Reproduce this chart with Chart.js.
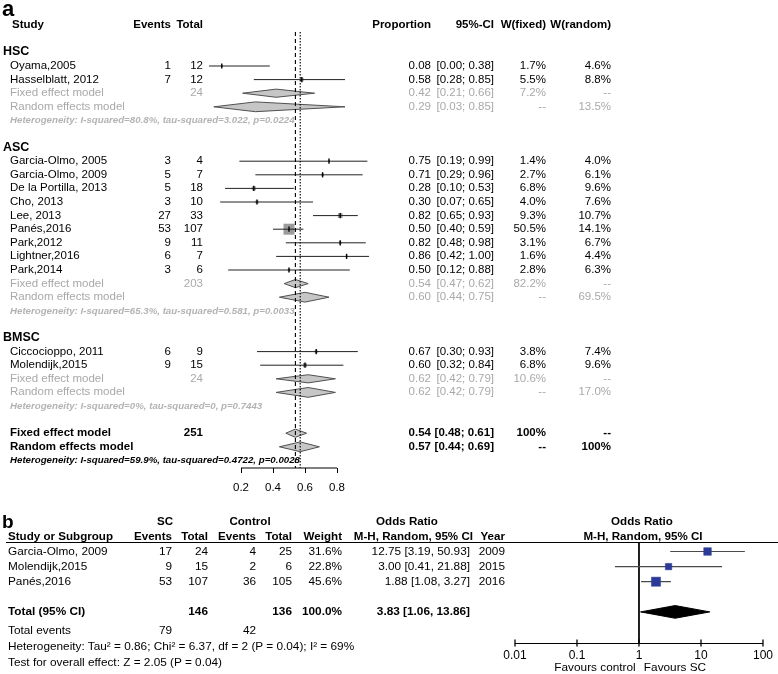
<!DOCTYPE html>
<html><head><meta charset="utf-8">
<script src="https://cdn.jsdelivr.net/npm/chart.js@4.4.1/dist/chart.umd.min.js"></script>
<style>
html,body{margin:0;padding:0;background:#fff;}
#page{position:relative;width:778px;height:674px;overflow:hidden;font-family:"Liberation Sans",Arial,Helvetica,sans-serif;color:#000;}
canvas{position:absolute;left:0;}
.t{position:absolute;white-space:nowrap;line-height:1;}
</style></head><body><div id="page">
<canvas id="ca" width="778" height="500" style="top:0px"></canvas>
<canvas id="cb" width="778" height="174" style="top:500px"></canvas>
</div>
<script>
// ---------------- Panel a data ----------------
const subgroups = ['HSC', 'ASC', 'BMSC'];
const studyNames = ['Oyama,2005', 'Hasselblatt, 2012', 'Garcia-Olmo, 2005', 'Garcia-Olmo, 2009', 'De la Portilla, 2013', 'Cho, 2013', 'Lee, 2013', 'Panés,2016', 'Park,2012', 'Lightner,2016', 'Park,2014', 'Ciccocioppo, 2011', 'Molendijk,2015'];
const studyGroup = ['HSC', 'HSC', 'ASC', 'ASC', 'ASC', 'ASC', 'ASC', 'ASC', 'ASC', 'ASC', 'ASC', 'BMSC', 'BMSC'];
const events = [1, 7, 3, 5, 5, 3, 27, 53, 9, 6, 3, 6, 9];
const totals = [12, 12, 4, 7, 18, 10, 33, 107, 11, 7, 6, 9, 15];
const proportion = [0.08, 0.58, 0.75, 0.71, 0.28, 0.30, 0.82, 0.50, 0.82, 0.86, 0.50, 0.67, 0.60];
const ciLower = [0.00, 0.28, 0.19, 0.29, 0.10, 0.07, 0.65, 0.40, 0.48, 0.42, 0.12, 0.30, 0.32];
const ciUpper = [0.38, 0.85, 0.99, 0.96, 0.53, 0.65, 0.93, 0.59, 0.98, 1.00, 0.88, 0.93, 0.84];
const weightFixed = [1.7, 5.5, 1.4, 2.7, 6.8, 4.0, 9.3, 50.5, 3.1, 1.6, 2.8, 3.8, 6.8];
const weightRandom = [4.6, 8.8, 4.0, 6.1, 9.6, 7.6, 10.7, 14.1, 6.7, 4.4, 6.3, 7.4, 9.6];
const subTotals = [24, 203, 24];
const subFixedEst = [0.42, 0.54, 0.62];
const subFixedLower = [0.21, 0.47, 0.42];
const subFixedUpper = [0.66, 0.62, 0.79];
const subFixedWeight = ['7.2%', '82.2%', '10.6%'];
const subRandomEst = [0.29, 0.60, 0.62];
const subRandomLower = [0.03, 0.44, 0.42];
const subRandomUpper = [0.85, 0.75, 0.79];
const subRandomWeight = ['13.5%', '69.5%', '17.0%'];
const subHeterogeneity = ['I-squared=80.8%, tau-squared=3.022, p=0.0224', 'I-squared=65.3%, tau-squared=0.581, p=0.0033', 'I-squared=0%, tau-squared=0, p=0.7443'];
const overallTotal = 251;
const overallFixed = [0.54, 0.48, 0.61];   // estimate, lower, upper
const overallRandom = [0.57, 0.44, 0.69];
const overallHeterogeneity = 'I-squared=59.9%, tau-squared=0.4722, p=0.0028';
const axisTicksA = [0.2, 0.4, 0.6, 0.8];

// ---------------- Panel b data ----------------
const orStudies = ['Garcia-Olmo, 2009', 'Molendijk,2015', 'Panés,2016'];
const scEvents = [17, 9, 53];
const scTotals = [24, 15, 107];
const ctrlEvents = [4, 2, 36];
const ctrlTotals = [25, 6, 105];
const orWeights = [31.6, 22.8, 45.6];
const oddsRatio = [12.75, 3.00, 1.88];
const orLower = [3.19, 0.41, 1.08];
const orUpper = [50.93, 21.88, 3.27];
const orYears = [2009, 2015, 2016];
const orTotal = [3.83, 1.06, 13.86];
const scTotalAll = 146, ctrlTotalAll = 136, scEventsAll = 79, ctrlEventsAll = 42;
const axisTicksB = [0.01, 0.1, 1, 10, 100];
const nullEffect = 1;

// ---------------- helpers ----------------
const page = document.getElementById('page');
function put(txt, x, y, align, style) {
  const d = document.createElement('div');
  d.className = 't';
  d.textContent = txt;
  Object.assign(d.style, style || {});
  d.style.left = x + 'px';
  d.style.top = y + 'px';
  const tx = align === 'right' ? '-100%' : (align === 'center' ? '-50%' : '0');
  d.style.transform = 'translate(' + tx + ',-50%)';
  page.appendChild(d);
}
function diamond(est, lo, hi, row, h) {
  return [{x: lo, y: row}, {x: est, y: row - h}, {x: hi, y: row}, {x: est, y: row + h}, {x: lo, y: row}];
}
const f2 = v => v.toFixed(2);

// ---------------- Panel a layout (rows) ----------------
const studyRow = [], headRow = [], sFixRow = [], sRanRow = [], sHetRow = [];
let r = -1;
subgroups.forEach(g => {
  headRow.push(r); r++;
  studyNames.forEach((s, i) => { if (studyGroup[i] === g) { studyRow[i] = r; r++; } });
  sFixRow.push(r++); sRanRow.push(r++); sHetRow.push(r++); r++;
});
const oFixRow = r, oRanRow = r + 1, oHetRow = r + 2;
const yMinA = -4, yMaxA = (468 - 66) / 13.6;

const ciData = [];
studyNames.forEach((s, i) => { ciData.push({x: ciLower[i], y: studyRow[i]}, {x: ciUpper[i], y: studyRow[i]}, {x: null, y: null}); });
const ptData = studyNames.map((s, i) => ({x: proportion[i], y: studyRow[i]}));
const sqRadius = weightFixed.map(w => 1.55 * Math.sqrt(w) / 1.414);

const dsA = [];
const diaStyle = {showLine: true, fill: 'shape', backgroundColor: '#c6c6c6', borderColor: '#505050', borderWidth: 1, pointRadius: 0, clip: false, order: 3};
subgroups.forEach((g, k) => {
  dsA.push(Object.assign({data: diamond(subFixedEst[k], subFixedLower[k], subFixedUpper[k], sFixRow[k], 0.3)}, diaStyle));
  dsA.push(Object.assign({data: diamond(subRandomEst[k], subRandomLower[k], subRandomUpper[k], sRanRow[k], 0.36)}, diaStyle));
});
dsA.push(Object.assign({data: diamond(overallFixed[0], overallFixed[1], overallFixed[2], oFixRow, 0.3)}, diaStyle));
dsA.push(Object.assign({data: diamond(overallRandom[0], overallRandom[1], overallRandom[2], oRanRow, 0.36)}, diaStyle));
dsA.push({data: ptData, showLine: false, pointStyle: 'rect', pointRadius: sqRadius, pointBackgroundColor: '#9c9c9c', pointBorderWidth: 0, clip: false, order: 5});
dsA.push({data: ciData, showLine: true, spanGaps: false, borderColor: '#222', borderWidth: 1, pointRadius: 0, clip: false, order: 2});
dsA.push({data: ptData, showLine: false, pointStyle: 'line', pointRotation: 90, pointRadius: 2.6, pointBorderColor: '#000', pointBorderWidth: 1.4, clip: false, order: 0});
dsA.push({data: [{x: overallFixed[0], y: -2.5}, {x: overallFixed[0], y: yMaxA}], showLine: true, borderColor: '#000', borderWidth: 1.1, borderDash: [4, 3], pointRadius: 0, clip: false, order: 1});
dsA.push({data: [{x: overallRandom[0], y: -2.5}, {x: overallRandom[0], y: yMaxA}], showLine: true, borderColor: '#000', borderWidth: 1.1, borderDash: [1.5, 1.5], pointRadius: 0, clip: false, order: 1});
dsA.push({data: [{x: axisTicksA[0], y: yMaxA}, {x: axisTicksA[axisTicksA.length - 1], y: yMaxA}], showLine: true, borderColor: '#000', borderWidth: 1, pointRadius: 0, clip: false, order: 1});

const fontFam = '"Liberation Sans", Arial, sans-serif';
const chartA = new Chart(document.getElementById('ca'), {
  type: 'line',
  data: {datasets: dsA},
  options: {
    responsive: false, animation: false, devicePixelRatio: 1, events: [],
    layout: {padding: {left: 209, right: 778 - 369, top: 11.6, bottom: 2}},
    plugins: {legend: {display: false}, tooltip: {enabled: false}},
    scales: {
      x: {type: 'linear', min: 0, max: 1,
        border: {display: false},
        grid: {drawOnChartArea: false, drawTicks: true, tickLength: 5, color: '#000', lineWidth: 1},
        ticks: {color: '#000', padding: 8, font: {family: fontFam, size: 11.5}, maxRotation: 0, callback: v => Number(v).toFixed(1)},
        afterBuildTicks: s => { s.ticks = axisTicksA.map(v => ({value: v})); },
        afterFit: s => { s.height = 30; }
      },
      y: {type: 'linear', reverse: true, min: yMinA, max: yMaxA, display: false}
    }
  }
});

// ---------------- Panel a text ----------------
const yA = v => chartA.scales.y.getPixelForValue(v);
const FS = '11.5px';
const gray = '#a9a9a9';
const hdr = {fontSize: FS, fontWeight: 'bold'};
put('a', 2, 9, 'left', {fontSize: '22px', fontWeight: 'bold'});
const hy = yA(-3);
put('Study', 12, hy, 'left', hdr);
put('Events', 171, hy, 'right', hdr);
put('Total', 203, hy, 'right', hdr);
put('Proportion', 431, hy, 'right', hdr);
put('95%-CI', 494, hy, 'right', hdr);
put('W(fixed)', 546, hy, 'right', hdr);
put('W(random)', 611, hy, 'right', hdr);

function rowA(y, cells, style) {
  const cols = [[10, 'left'], [171, 'right'], [203, 'right'], [431, 'right'], [494, 'right'], [546, 'right'], [611, 'right']];
  cells.forEach((c, j) => { if (c !== '') put(c, cols[j][0], y, cols[j][1], Object.assign({fontSize: FS}, style)); });
}
subgroups.forEach((g, k) => {
  put(g, 3, yA(headRow[k]) - 1, 'left', {fontSize: '12.5px', fontWeight: 'bold'});
  studyNames.forEach((s, i) => {
    if (studyGroup[i] !== g) return;
    rowA(yA(studyRow[i]), [s, String(events[i]), String(totals[i]), f2(proportion[i]), '[' + f2(ciLower[i]) + '; ' + f2(ciUpper[i]) + ']', weightFixed[i].toFixed(1) + '%', weightRandom[i].toFixed(1) + '%'], {});
  });
  rowA(yA(sFixRow[k]), ['Fixed effect model', '', String(subTotals[k]), f2(subFixedEst[k]), '[' + f2(subFixedLower[k]) + '; ' + f2(subFixedUpper[k]) + ']', subFixedWeight[k], '--'], {color: gray});
  rowA(yA(sRanRow[k]), ['Random effects model', '', '', f2(subRandomEst[k]), '[' + f2(subRandomLower[k]) + '; ' + f2(subRandomUpper[k]) + ']', '--', subRandomWeight[k]], {color: gray});
  put('Heterogeneity: ' + subHeterogeneity[k], 10, yA(sHetRow[k]), 'left', {fontSize: '9.7px', fontWeight: 'bold', fontStyle: 'italic', color: '#b3b3b3'});
});
rowA(yA(oFixRow), ['Fixed effect model', '', String(overallTotal), f2(overallFixed[0]), '[' + f2(overallFixed[1]) + '; ' + f2(overallFixed[2]) + ']', '100%', '--'], {fontWeight: 'bold'});
rowA(yA(oRanRow), ['Random effects model', '', '', f2(overallRandom[0]), '[' + f2(overallRandom[1]) + '; ' + f2(overallRandom[2]) + ']', '--', '100%'], {fontWeight: 'bold'});
put('Heterogeneity: ' + overallHeterogeneity, 10, yA(oHetRow), 'left', {fontSize: '9.7px', fontWeight: 'bold', fontStyle: 'italic'});

// ---------------- Panel b chart ----------------
const row0B = 551.5, stepB = 15.1;
const yMinB = (542 - row0B) / stepB, yMaxB = (643 - row0B) / stepB;
const totalRowB = 4;
const ciB = [];
orStudies.forEach((s, i) => { ciB.push({x: orLower[i], y: i}, {x: orUpper[i], y: i}, {x: null, y: null}); });
const dsB = [
  {data: [{x: nullEffect, y: yMinB}, {x: nullEffect, y: yMaxB}], showLine: true, borderColor: '#000', borderWidth: 1, pointRadius: 0, order: 4},
  {data: ciB, showLine: true, spanGaps: false, borderColor: '#4a4a4a', borderWidth: 1.2, pointRadius: 0, order: 3},
  {data: orStudies.map((s, i) => ({x: oddsRatio[i], y: i})), showLine: false, pointStyle: 'rect', pointRadius: orWeights.map(w => 1.35 * Math.sqrt(w) / 1.414), pointBackgroundColor: '#2c3a97', pointBorderColor: '#2c3a97', pointBorderWidth: 0.5, order: 1},
  {data: diamond(orTotal[0], orTotal[1], orTotal[2], totalRowB, 0.42), showLine: true, fill: 'shape', backgroundColor: '#000', borderColor: '#000', borderWidth: 1, pointRadius: 0, order: 2},
  {data: axisTicksB.map(v => ({x: v, y: yMaxB})), showLine: false, pointStyle: 'line', pointRotation: 90, pointRadius: 3.5, pointBorderColor: '#000', pointBorderWidth: 1.3, clip: false, order: 0}
];
const chartB = new Chart(document.getElementById('cb'), {
  type: 'line',
  data: {datasets: dsB},
  options: {
    responsive: false, animation: false, devicePixelRatio: 1, events: [],
    layout: {padding: {left: 515, right: 778 - 766, top: 42, bottom: 11}},
    plugins: {legend: {display: false}, tooltip: {enabled: false}},
    scales: {
      x: {type: 'logarithmic', min: 0.01, max: 100,
        border: {display: true, color: '#000', width: 1},
        grid: {drawOnChartArea: false, drawTicks: false},
        ticks: {color: '#000', padding: 5, font: {family: fontFam, size: 12}, maxRotation: 0, autoSkip: false, callback: v => String(Number(v))},
        afterBuildTicks: s => { s.ticks = axisTicksB.map(v => ({value: v})); },
        afterFit: s => { s.height = 20; }
      },
      y: {type: 'linear', reverse: true, min: yMinB, max: yMaxB, display: false}
    }
  }
});

// ---------------- Panel b text ----------------
const topB = 500;
const yB = v => topB + chartB.scales.y.getPixelForValue(v);
const FB = '11.8px';
const bh = {fontSize: '11.6px', fontWeight: 'bold'};
put('b', 2, 521, 'left', {fontSize: '19px', fontWeight: 'bold'});
const h1 = yB(-2.02), h2 = yB(-1.03);
put('SC', 165, h1, 'center', bh);
put('Control', 250, h1, 'center', bh);
put('Odds Ratio', 407, h1, 'center', bh);
put('Odds Ratio', 642, h1, 'center', bh);
put('Study or Subgroup', 8, h2, 'left', bh);
put('Events', 172, h2, 'right', bh);
put('Total', 208, h2, 'right', bh);
put('Events', 256, h2, 'right', bh);
put('Total', 292, h2, 'right', bh);
put('Weight', 342, h2, 'right', bh);
put('M-H, Random, 95% CI', 473, h2, 'right', bh);
put('Year', 505, h2, 'right', bh);
put('M-H, Random, 95% CI', 643, h2, 'center', bh);
const rule = document.createElement('div');
Object.assign(rule.style, {position: 'absolute', left: '6px', width: '772px', height: '1px', background: '#000', top: (yB(yMinB) - 0.5) + 'px'});
page.appendChild(rule);

function rowB(y, cells, style) {
  const cols = [[8, 'left'], [172, 'right'], [208, 'right'], [256, 'right'], [292, 'right'], [342, 'right'], [470, 'right'], [505, 'right']];
  cells.forEach((c, j) => { if (c !== '') put(c, cols[j][0], y, cols[j][1], Object.assign({fontSize: FB}, style)); });
}
orStudies.forEach((s, i) => {
  rowB(yB(i), [s, String(scEvents[i]), String(scTotals[i]), String(ctrlEvents[i]), String(ctrlTotals[i]), orWeights[i].toFixed(1) + '%', f2(oddsRatio[i]) + ' [' + f2(orLower[i]) + ', ' + f2(orUpper[i]) + ']', String(orYears[i])], {});
});
rowB(yB(totalRowB), ['Total (95% CI)', '', String(scTotalAll), '', String(ctrlTotalAll), '100.0%', f2(orTotal[0]) + ' [' + f2(orTotal[1]) + ', ' + f2(orTotal[2]) + ']', ''], {fontWeight: 'bold'});
rowB(yB(5.26), ['Total events', String(scEventsAll), '', String(ctrlEventsAll), '', '', '', ''], {});
put('Heterogeneity: Tau² = 0.86; Chi² = 6.37, df = 2 (P = 0.04); I² = 69%', 8, yB(6.32), 'left', {fontSize: FB});
put('Test for overall effect: Z = 2.05 (P = 0.04)', 8, yB(7.38), 'left', {fontSize: FB});
put('Favours control', 595, 668, 'center', {fontSize: FB});
put('Favours SC', 675, 668, 'center', {fontSize: FB});
</script>
</body></html>
